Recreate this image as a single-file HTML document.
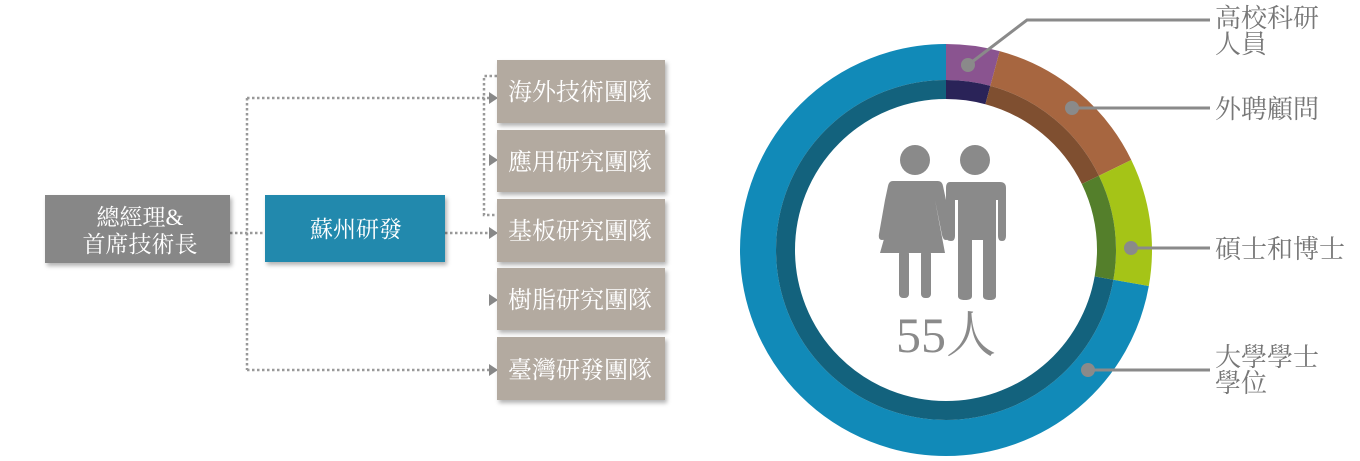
<!DOCTYPE html>
<html><head><meta charset="utf-8"><style>
html,body{margin:0;padding:0;background:#fff;width:1360px;height:461px;overflow:hidden}
svg{display:block}
text{font-family:"Liberation Serif","Noto Serif CJK SC","Noto Sans CJK TC",serif}
</style></head><body>
<svg width="1360" height="461" viewBox="0 0 1360 461" xmlns="http://www.w3.org/2000/svg">
<defs>
<filter id="sh" x="-10%" y="-10%" width="130%" height="140%"><feDropShadow dx="2" dy="3" stdDeviation="2" flood-color="#000" flood-opacity="0.3"/></filter>
</defs>
<g stroke="#999" stroke-width="2.5" stroke-dasharray="2.5 2.5" fill="none">
<path d="M230 233 H265"/>
<path d="M247 98 V370"/>
<path d="M247 98 H490"/>
<path d="M247 370 H490"/>
<path d="M445 233 H490"/>
<path d="M497 76 H484 V215 H497"/>
</g>
<g fill="#888">
<path d="M489 92 L498 98 L489 104Z"/>
<path d="M489 154 L498 160 L489 166Z"/>
<path d="M489 227 L498 233 L489 239Z"/>
<path d="M489 294 L498 300 L489 306Z"/>
<path d="M489 364 L498 370 L489 376Z"/>
</g>
<rect x="45" y="195" width="185" height="68" fill="#878787" filter="url(#sh)"/>
<text x="140" y="225" font-size="23" fill="#fff" text-anchor="middle">總經理&amp;</text>
<text x="140" y="252" font-size="23" fill="#fff" text-anchor="middle">首席技術長</text>
<rect x="265" y="195" width="180" height="67" fill="#2189ad" filter="url(#sh)"/>
<text x="356" y="237" font-size="23" fill="#fff" text-anchor="middle">蘇州研發</text>
<g filter="url(#sh)" fill="#b3aaa0">
<rect x="497" y="60" width="168" height="63"/>
<rect x="497" y="130" width="168" height="62"/>
<rect x="497" y="199" width="168" height="63"/>
<rect x="497" y="268" width="168" height="62"/>
<rect x="497" y="337" width="168" height="63"/>
</g>
<g font-size="24" fill="#fff" text-anchor="middle">
<text x="580" y="100">海外技術團隊</text>
<text x="580" y="170">應用研究團隊</text>
<text x="580" y="239">基板研究團隊</text>
<text x="580" y="308">樹脂研究團隊</text>
<text x="580" y="378">臺灣研發團隊</text>
</g>
<g transform="translate(946 250) rotate(-90)" fill="none">
<circle r="188" stroke="#118ab8" stroke-width="36" pathLength="100" stroke-dasharray="72.2 100" stroke-dashoffset="-27.8"/>
<circle r="188" stroke="#8a5490" stroke-width="36" pathLength="100" stroke-dasharray="4.2 100"/>
<circle r="188" stroke="#a76640" stroke-width="36" pathLength="100" stroke-dasharray="13.6 100" stroke-dashoffset="-4.2"/>
<circle r="188" stroke="#a5c417" stroke-width="36" pathLength="100" stroke-dasharray="10 100" stroke-dashoffset="-17.8"/>
<circle r="160.5" stroke="#13627d" stroke-width="19" pathLength="100" stroke-dasharray="72.2 100" stroke-dashoffset="-27.8"/>
<circle r="160.5" stroke="#2a2358" stroke-width="19" pathLength="100" stroke-dasharray="4.2 100"/>
<circle r="160.5" stroke="#7f4f30" stroke-width="19" pathLength="100" stroke-dasharray="13.6 100" stroke-dashoffset="-4.2"/>
<circle r="160.5" stroke="#547f2b" stroke-width="19" pathLength="100" stroke-dasharray="10 100" stroke-dashoffset="-17.8"/>
</g>
<g stroke="#8a8a8a" stroke-width="3" fill="none">
<path d="M968 65 L1027 20 H1210"/>
<path d="M1072 108 H1210"/>
<path d="M1131 248 H1210"/>
<path d="M1088 370 H1210"/>
</g>
<g fill="#8a8a8a">
<circle cx="968" cy="65" r="7"/>
<circle cx="1072" cy="108" r="7"/>
<circle cx="1131" cy="248" r="7"/>
<circle cx="1088" cy="370" r="7"/>
</g>
<g font-size="26" fill="#777">
<text x="1215" y="27">高校科研</text>
<text x="1215" y="53">人員</text>
<text x="1215" y="118">外聘顧問</text>
<text x="1215" y="258">碩士和博士</text>
<text x="1215" y="366">大學學士</text>
<text x="1215" y="392">學位</text>
</g>
<g fill="#8a8a8a">
<circle cx="915" cy="160" r="15"/>
<circle cx="975" cy="160" r="15"/>
<path d="M893 181 H938 Q942 181 943 186 L946 200 L950 234 Q950 240 946 240 Q943 240 942 235 L935 200 L945 253 H880 L895 200 L887 235 Q886 240 882 240 Q878 240 879 234 L885 200 L888 186 Q889 181 893 181Z"/>
<rect x="899" y="250" width="10" height="48" rx="4"/>
<rect x="921" y="250" width="10" height="48" rx="4"/>
<path d="M950 182 H1000 Q1006 182 1006 188 V236 Q1006 241 1002 241 Q998 241 998 236 V200 H996 V296 Q996 300 990 300 Q983 300 983 296 V240 H972 V296 Q972 300 965 300 Q958 300 958 296 V200 H955 V236 Q955 241 951 241 Q946 241 946 236 V188 Q946 182 950 182Z"/>
</g>
<text x="946" y="352" font-size="50" fill="#8a8a8a" text-anchor="middle">55人</text>
</svg>
</body></html>
